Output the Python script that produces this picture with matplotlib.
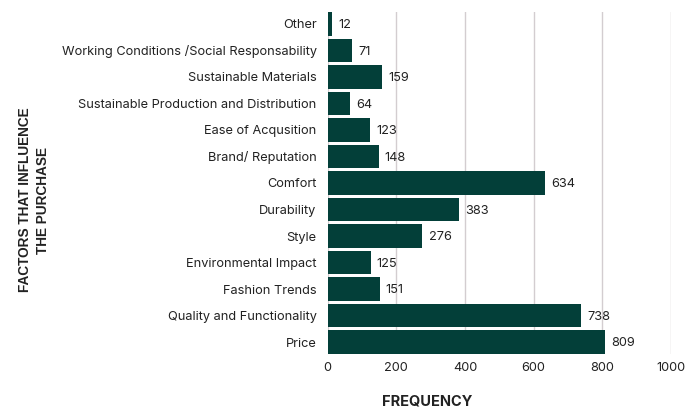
import matplotlib
matplotlib.use("Agg")
from matplotlib import pyplot as plt

# categories bottom -> top (barh draws first item at the bottom)
fatores = [
    "Price",
    "Quality and Functionality",
    "Fashion Trends",
    "Environmental Impact",
    "Style",
    "Durability",
    "Comfort",
    "Brand/ Reputation",
    "Ease of Acqusition",
    "Sustainable Production and Distribution",
    "Sustainable Materials",
    "Working Conditions /Social Responsability",
    "Other",
]
frequencias = [809, 738, 151, 125, 276, 383, 634, 148, 123, 64, 159, 71, 12]
ticksX = [0, 200, 400, 600, 800, 1000]

COR_BARRA = "#033f39"
COR_TEXTO = "#222222"

plt.rcParams["font.family"] = ["Inter", "DejaVu Sans"]

fig = plt.figure(figsize=(6.86, 4.12), dpi=100)
ax = fig.add_axes([327.7 / 686, 1 - 354 / 412, (671 - 327.7) / 686, (354 - 12) / 412])

posicoes = range(len(fatores))
barras = ax.barh(posicoes, frequencias, height=0.9, color=COR_BARRA, zorder=3)

for barra, valor in zip(barras, frequencias):
    ax.annotate(str(valor),
                xy=(barra.get_width(), barra.get_y() + barra.get_height() / 2),
                xytext=(4.5, -1), textcoords="offset points",
                ha="left", va="center", fontsize=9.2, color=COR_TEXTO, zorder=4)

ax.set_xlim(0, 1000)
ax.set_ylim(-0.45, len(fatores) - 0.55)
ax.set_xticks(ticksX)
ax.set_xticklabels([str(t) for t in ticksX])
ax.set_yticks(list(posicoes))
ax.set_yticklabels(fatores)
ax.tick_params(axis="both", length=0, labelsize=9.2, colors=COR_TEXTO)
ax.tick_params(axis="y", pad=8)
ax.tick_params(axis="x", pad=6)
ax.xaxis.grid(True, color="#d3cdd0", linewidth=1, zorder=0)
ax.yaxis.grid(False)
for lado in ax.spines.values():
    lado.set_visible(False)

fig.text(426.7 / 686, 1 - 402 / 412, "FREQUENCY", ha="center", va="center",
         fontsize=10.5, fontweight="bold", color=COR_TEXTO)
fig.text(34 / 686, 1 - 200 / 412, "FACTORS THAT INFLUENCE\nTHE PURCHASE",
         ha="center", va="center", rotation=90, multialignment="center",
         fontsize=9.8, fontweight="bold", color=COR_TEXTO, linespacing=1.45,
         family=["Liberation Sans", "DejaVu Sans"])

fig.savefig("out.png", dpi=100, facecolor="white")
